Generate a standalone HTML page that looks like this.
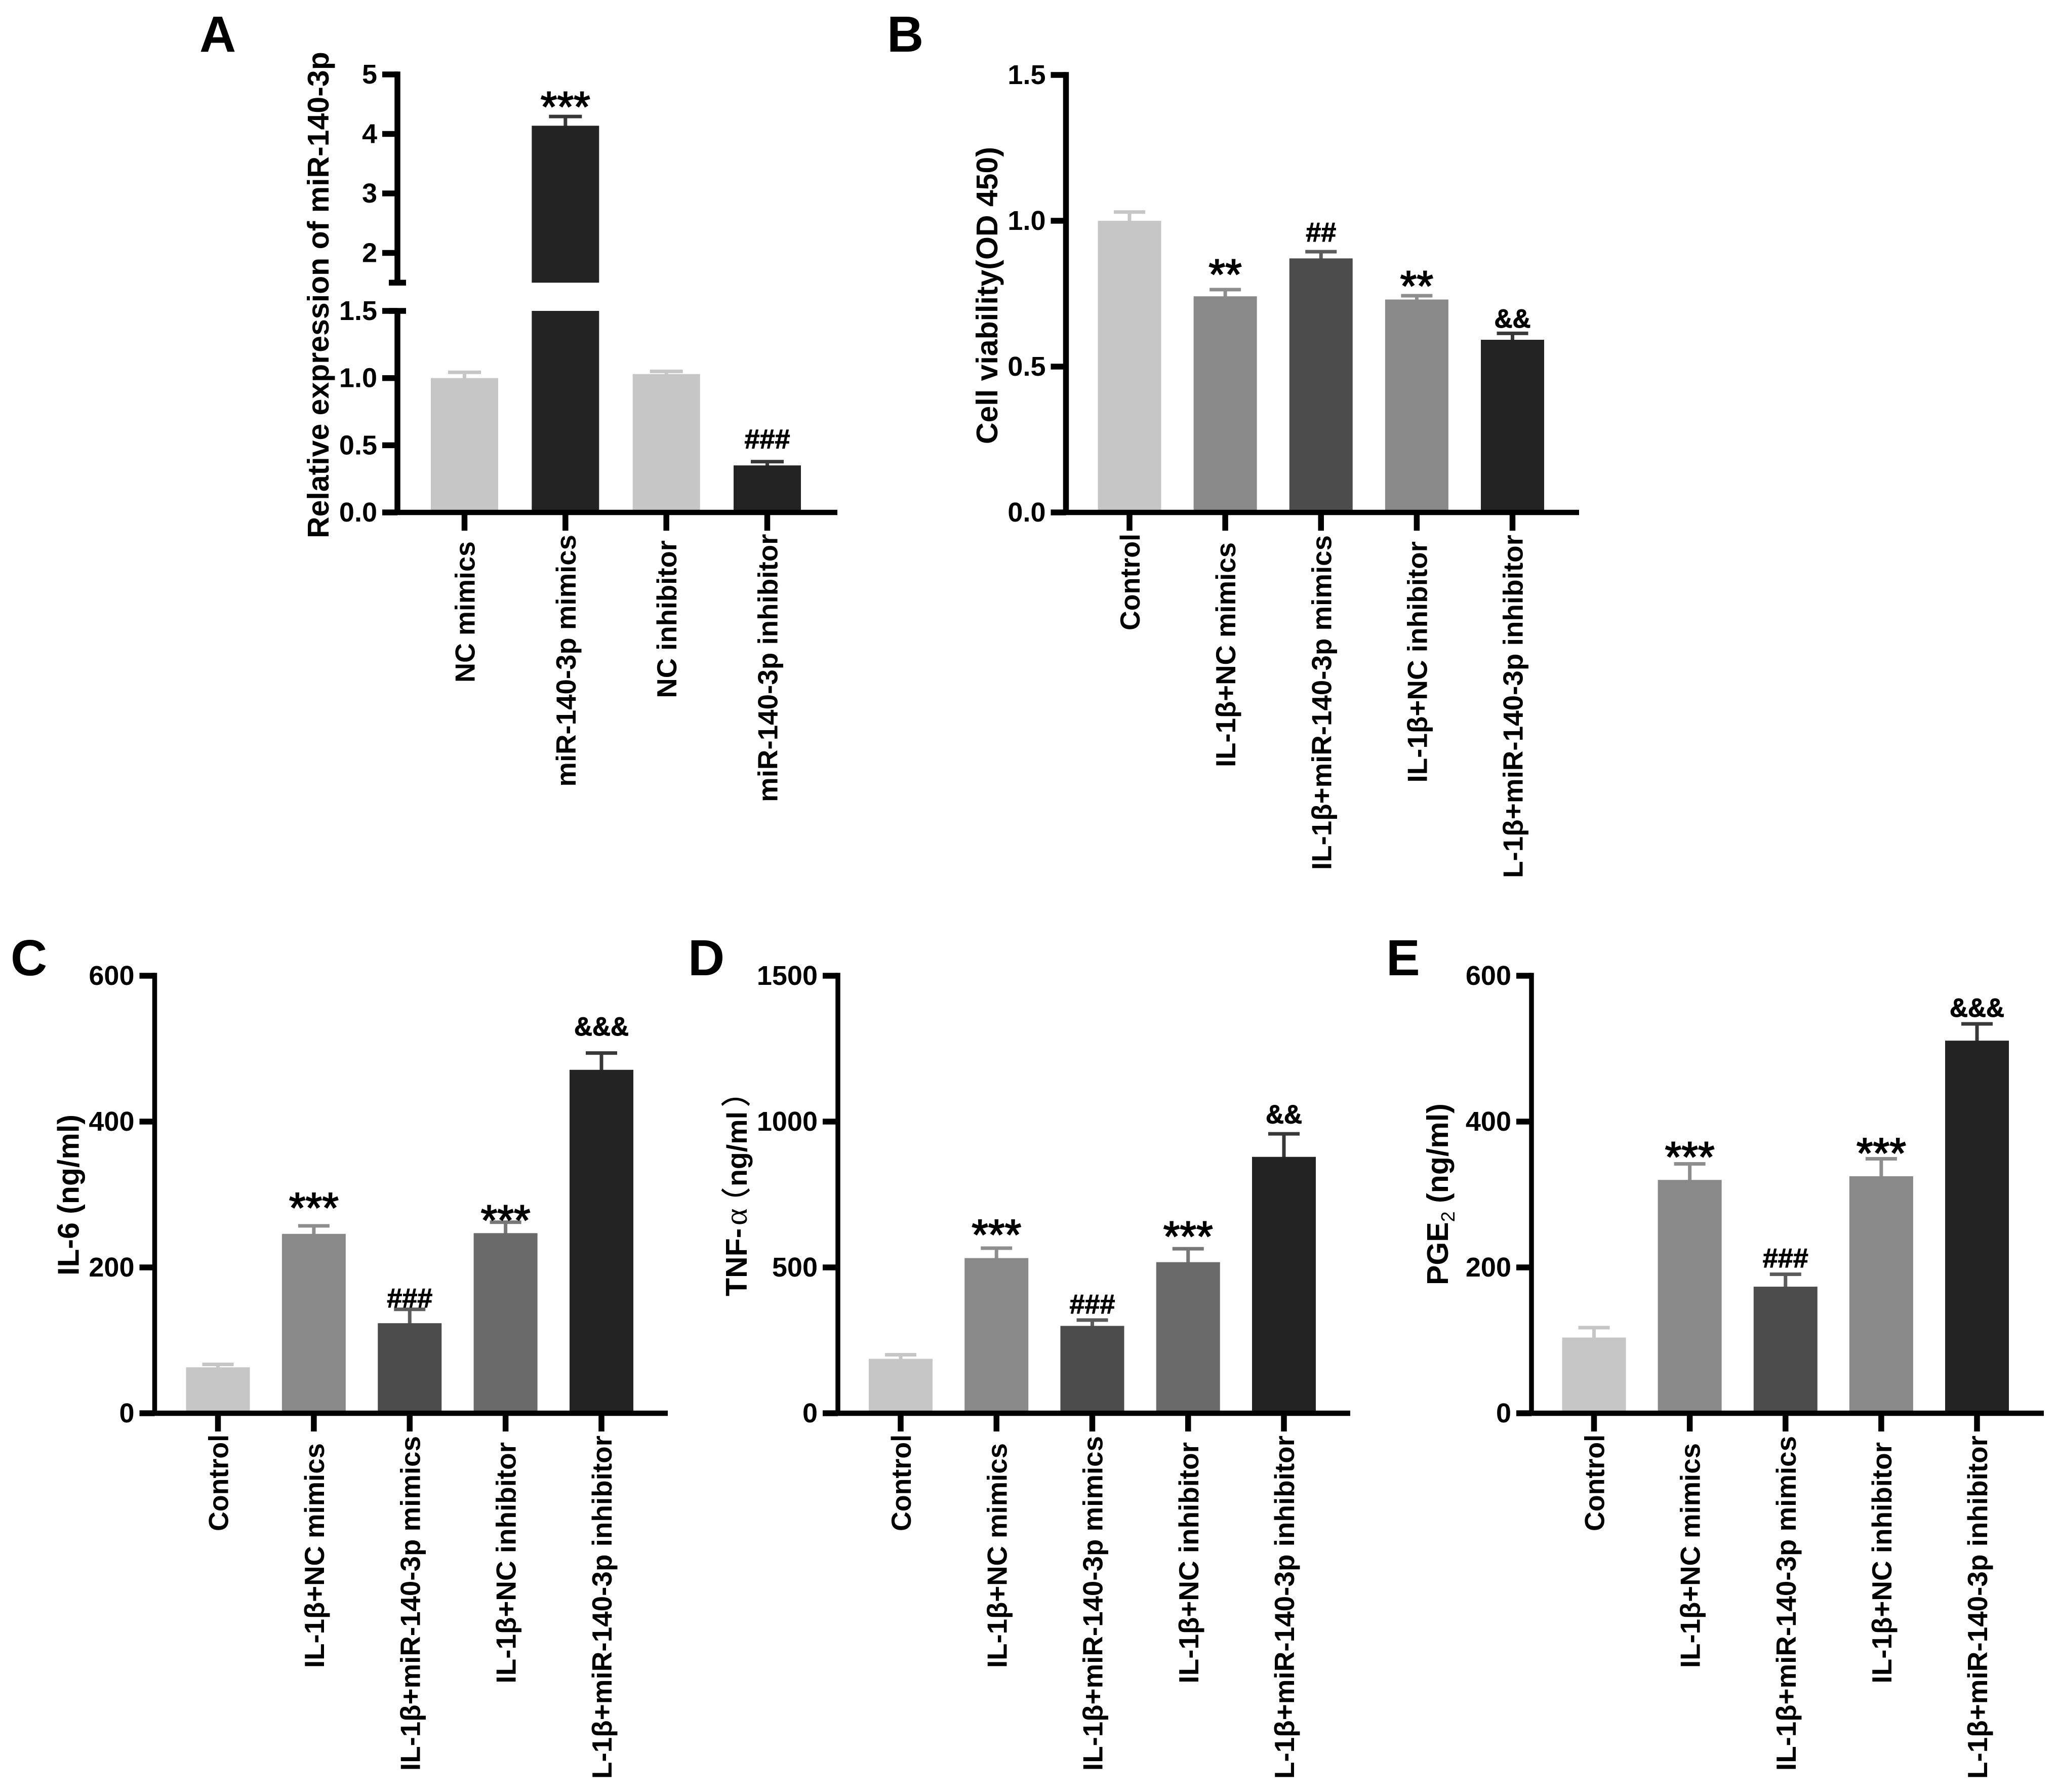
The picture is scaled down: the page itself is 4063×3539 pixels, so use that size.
<!DOCTYPE html>
<html lang="en">
<head>
<meta charset="utf-8">
<title>miR-140-3p bar chart figure</title>
<style>
html,body{margin:0;padding:0;background:#fff;}
svg{display:block;}
text{font-family:"Liberation Sans","Noto Sans CJK SC",sans-serif;font-weight:700;fill:#000;}
</style>
</head>
<body>
<svg id="figure" xmlns="http://www.w3.org/2000/svg" width="4063" height="3539" viewBox="0 0 4063 3539">
<rect width="4063" height="3539" fill="#fff"/>
</svg>
<script>
/* ---------- data: panel A ---------- */
const aCategories = ['NC mimics', 'miR-140-3p mimics', 'NC inhibitor', 'miR-140-3p inhibitor'];
const aValues = [1.0, 4.138, 1.03, 0.35];
const aErrors = [0.043, 0.155, 0.02, 0.028];
const aSigLabels = ['', '***', '', '###'];
const aSigLevels = [null, 4.205, null, 0.4775];
const aTicksUpper = [5, 4, 3, 2];
const aTicksLower = [1.5, 1.0, 0.5, 0.0];
const aTickLabelsUpper = ['5', '4', '3', '2'];
const aTickLabelsLower = ['1.5', '1.0', '0.5', '0.0'];

/* ---------- data: panel B ---------- */
const treatmentCategories = ['Control', 'IL-1β+NC mimics', 'IL-1β+miR-140-3p mimics', 'IL-1β+NC inhibitor', 'L-1β+miR-140-3p inhibitor'];
const bValues = [1.0, 0.741, 0.871, 0.73, 0.592];
const bErrors = [0.03, 0.023, 0.023, 0.013, 0.022];
const bSigLabels = ['', '**', '##', '**', '&&'];
const bSigLevels = [null, 0.7646, 0.9288, 0.7245, 0.634];
const bTicks = [1.5, 1.0, 0.5, 0.0];
const bTickLabels = ['1.5', '1.0', '0.5', '0.0'];

/* ---------- data: panel C ---------- */
const cValues = [63, 246, 123.5, 247, 471];
const cErrors = [4, 11, 19, 15, 23];
const cSigLabels = ['', '***', '###', '***', '&&&'];
const cSigLevels = [null, 261, 145.2, 244, 518];
const cTicks = [600, 400, 200, 0];
const cTickLabels = ['600', '400', '200', '0'];

/* ---------- data: panel D ---------- */
const dValues = [186.6, 532, 299.5, 518, 879];
const dErrors = [14, 34, 20, 46, 79];
const dSigLabels = ['', '***', '###', '***', '&&'];
const dSigLevels = [null, 560.5, 342, 554.5, 993.5];
const dTicks = [1500, 1000, 500, 0];
const dTickLabels = ['1500', '1000', '500', '0'];

/* ---------- data: panel E ---------- */
const eValues = [103.8, 320, 173.6, 325, 511];
const eErrors = [13.6, 22, 17, 24, 23];
const eSigLabels = ['', '***', '###', '***', '&&&'];
const eSigLevels = [null, 331, 200, 336, 543.6];
const eTicks = [600, 400, 200, 0];
const eTickLabels = ['600', '400', '200', '0'];

/* ---------- layout (not data) ---------- */
const SVGNS = 'http://www.w3.org/2000/svg';
const svg = document.getElementById('figure');
const TICK_W = 11.5;
const X_AXIS_W = 10.5;
const LIGHT = '#c6c6c6', MID = '#898989', DARK = '#4c4c4c', SLATE = '#6a6a6a', BLACK = '#232323';
const capShade = {'#c6c6c6': '#c6c6c6', '#898989': '#8e8e8e', '#4c4c4c': '#5c5c5c', '#6a6a6a': '#777777', '#232323': '#383838'};
const labelExtent = {
  'NC mimics': [57, 336],
  'miR-140-3p mimics': [44, 541.6],
  'NC inhibitor': [55, 366.6],
  'miR-140-3p inhibitor': [42.5, 572],
  'Control': [42, 233],
  'IL-1β+NC mimics': [59, 503],
  'IL-1β+miR-140-3p mimics': [45, 706],
  'IL-1β+NC inhibitor': [57, 533.5],
  'L-1β+miR-140-3p inhibitor': [44, 722]
};

function slug(s) {
  return String(s).toLowerCase().replace(/[^a-z0-9]+/g, '-').replace(/^-|-$/g, '');
}
function mk(tag, attrs, text) {
  const el = document.createElementNS(SVGNS, tag);
  for (const k in attrs) el.setAttribute(k, attrs[k]);
  if (text !== undefined) el.textContent = text;
  return el;
}
function linearAxis(v0, px0, v1, px1) {
  return v => px0 + (v - v0) * (px1 - px0) / (v1 - v0);
}
function hLine(parent, x1, x2, y, name, w) {
  const el = mk('rect', {x: x1, y: y - w / 2, width: x2 - x1, height: w, fill: '#000'});
  
  
  parent.appendChild(el);
}
function vLine(parent, x, y1, y2, name, w) {
  const el = mk('rect', {x: x - w / 2, y: y1, width: w, height: y2 - y1, fill: '#000'});
  
  
  parent.appendChild(el);
}
function yTick(parent, p, y, label) {
  hLine(parent, p.axisX - 30, p.axisX, y, 'y-tick-' + slug(label), TICK_W);
  const t = mk('text', {x: p.axisX - 40, y: y + 18, 'text-anchor': 'end', 'font-size': 54}, label);
  
  
  parent.appendChild(t);
}

function drawPanel(p) {
  const g = mk('g', {});
  
  
  svg.appendChild(g);

  /* panel letter */
  const letter = mk('text', {x: p.letterX, y: p.letterY, 'font-size': 100}, p.id.toUpperCase());
  
  
  g.appendChild(letter);

  /* bars and error bars */
  p.values.forEach((v, i) => {
    const cx = p.xAt(i);
    const color = p.colors[i];
    const capColor = capShade[color];
    const top = p.yAt(v);
    const cap = p.yAt(v + p.errors[i]);
    const stem = mk('rect', {x: cx - 3.5, y: cap, width: 7, height: Math.max(0, top - cap) + 2, fill: capColor});
    
    
    g.appendChild(stem);
    const capEl = mk('rect', {x: cx - p.capW / 2, y: cap - 3.5, width: p.capW, height: 7, fill: capColor});
    
    
    g.appendChild(capEl);
    if (p.breakAt !== undefined && v > p.breakAt) {
      const upper = mk('rect', {x: cx - p.barW / 2, y: top, width: p.barW, height: p.yAt(p.breakAt + 1e-6) - top, fill: color});
      
      
      g.appendChild(upper);
      const lowerTop = p.yAt(p.breakAt);
      const lower = mk('rect', {x: cx - p.barW / 2, y: lowerTop, width: p.barW, height: p.axisY - lowerTop, fill: color});
      
      
      g.appendChild(lower);
    } else {
      const bar = mk('rect', {x: cx - p.barW / 2, y: top, width: p.barW, height: p.axisY - top, fill: color});
      
      
      g.appendChild(bar);
    }
  });

  /* y axis */
  if (p.breakAt !== undefined) {
    vLine(g, p.axisX, p.yAt(5) - TICK_W / 2, p.yAt(p.breakAt + 1e-6), 'y-axis-upper', p.axisW);
    vLine(g, p.axisX, p.yAt(p.breakAt), p.axisY, 'y-axis-lower', p.axisW);
    hLine(g, p.axisX - 17, p.axisX + 17, p.yAt(p.breakAt + 1e-6), 'axis-break-upper', TICK_W);
    hLine(g, p.axisX - 17, p.axisX + 17, p.yAt(p.breakAt), 'axis-break-lower', TICK_W);
  } else {
    vLine(g, p.axisX, p.yAt(p.ticks[0]) - TICK_W / 2, p.axisY, 'y-axis', p.axisW);
  }
  p.ticks.forEach((v, i) => yTick(g, p, p.yAt(v), p.tickLabels[i]));

  /* x axis */
  hLine(g, p.axisX - 30, p.xEnd, p.axisY, 'x-axis', X_AXIS_W);
  p.cats.forEach((c, i) => {
    const cx = p.xAt(i);
    vLine(g, cx, p.axisY, p.axisY + 36, 'x-tick-' + slug(c), TICK_W);
    const ext = labelExtent[c];
    const label = mk('text', {
      transform: 'translate(' + (cx + 20) + ',' + (p.axisY + ext[1]) + ') rotate(-90)',
      'font-size': 55,
      textLength: ext[1] - ext[0],
      lengthAdjust: 'spacingAndGlyphs'
    }, c);
    
    
    g.appendChild(label);
  });

  /* significance marks */
  p.sigLabels.forEach((s, i) => {
    if (!s) return;
    const kind = s.charAt(0);
    let t;
    if (kind === '*') {
      t = mk('text', {x: p.xAt(i), y: p.yAt(p.sigLevels[i]) - 1, 'text-anchor': 'middle', 'font-size': 84, style: 'font-weight:400;stroke:#000;stroke-width:2px'}, s);
    } else if (kind === '#') {
      t = mk('text', {x: p.xAt(i), y: p.yAt(p.sigLevels[i]), 'text-anchor': 'middle', 'font-size': 54, style: 'stroke:#000;stroke-width:1px'}, s);
    } else {
      t = mk('text', {x: p.xAt(i), y: p.yAt(p.sigLevels[i]), 'text-anchor': 'middle', 'font-size': 52, textLength: s.length * 36, lengthAdjust: 'spacingAndGlyphs', style: 'stroke:#000;stroke-width:1px'}, s);
    }
    
    
    g.appendChild(t);
  });

  /* y title */
  const title = mk('text', {transform: 'translate(' + p.titleX + ',' + p.titleBottom + ') rotate(-90)', 'font-size': 59});
  
  
  p.title(title);
  g.appendChild(title);
}

function span(parent, text, attrs) {
  const s = mk('tspan', attrs || {}, text);
  parent.appendChild(s);
}

/* ---------- axis functions ---------- */
const aUpperAxis = linearAxis(5, 147, 2, 499.5);
const aLowerAxis = linearAxis(0, 1012, 1.5, 614);
const aXAxis = linearAxis(0, 917.5, 3, 1515.5);
const bYAxis = linearAxis(0, 1012, 1.5, 148);
const bXAxis = linearAxis(0, 2231, 4, 2987.5);
const cYAxis = linearAxis(0, 2791, 600, 1927);
const cXAxis = linearAxis(0, 430.5, 4, 1188);
const dYAxis = linearAxis(0, 2791, 1500, 1927);
const dXAxis = linearAxis(0, 1779, 4, 2536);
const eYAxis = linearAxis(0, 2791, 600, 1927);
const eXAxis = linearAxis(0, 3148.5, 4, 3905);

drawPanel({
  id: 'a', cats: aCategories, values: aValues, errors: aErrors,
  sigLabels: aSigLabels, sigLevels: aSigLevels,
  ticks: aTicksUpper.concat(aTicksLower),
  tickLabels: aTickLabelsUpper.concat(aTickLabelsLower),
  breakAt: 1.5,
  yAt: v => (v > 1.5 ? aUpperAxis(v) : aLowerAxis(v)),
  xAt: aXAxis,
  axisX: 785, axisY: 1012, xEnd: 1654, barW: 133, capW: 65, axisW: 11.5,
  colors: [LIGHT, BLACK, LIGHT, BLACK],
  letterX: 394, letterY: 102, titleX: 649, titleBottom: 1063,
  title: t => { span(t, 'Relative expression of miR-140-3p'); }
});
drawPanel({
  id: 'b', cats: treatmentCategories, values: bValues, errors: bErrors,
  sigLabels: bSigLabels, sigLevels: bSigLevels,
  ticks: bTicks, tickLabels: bTickLabels,
  yAt: bYAxis, xAt: bXAxis,
  axisX: 2105.5, axisY: 1012, xEnd: 3119, barW: 125, capW: 62, axisW: 11.5,
  colors: [LIGHT, MID, DARK, MID, BLACK],
  letterX: 1752, letterY: 102, titleX: 1970, titleBottom: 877,
  title: t => { span(t, 'Cell viability(OD 450)'); }
});
drawPanel({
  id: 'c', cats: treatmentCategories, values: cValues, errors: cErrors,
  sigLabels: cSigLabels, sigLevels: cSigLevels,
  ticks: cTicks, tickLabels: cTickLabels,
  yAt: cYAxis, xAt: cXAxis,
  axisX: 305.5, axisY: 2791, xEnd: 1319, barW: 126, capW: 62, axisW: 9.5,
  colors: [LIGHT, MID, DARK, SLATE, BLACK],
  letterX: 21, letterY: 1926, titleX: 155.5, titleBottom: 2519,
  title: t => { span(t, 'IL-6 (ng/ml)'); }
});
drawPanel({
  id: 'd', cats: treatmentCategories, values: dValues, errors: dErrors,
  sigLabels: dSigLabels, sigLevels: dSigLevels,
  ticks: dTicks, tickLabels: dTickLabels,
  yAt: dYAxis, xAt: dXAxis,
  axisX: 1655, axisY: 2791, xEnd: 2667, barW: 126, capW: 62, axisW: 9.5,
  colors: [LIGHT, MID, DARK, SLATE, BLACK],
  letterX: 1359, letterY: 1926, titleX: 1475, titleBottom: 2560,
  title: t => {
    span(t, 'TNF-');
    span(t, 'α', {x: 140, 'font-size': 64, style: 'font-family:"Liberation Serif",serif;font-weight:400'});
    span(t, '（', {x: 157, 'font-size': 58, style: 'font-family:"Noto Sans CJK SC",sans-serif;font-weight:400;stroke:#000;stroke-width:1px'});
    span(t, 'ng/ml', {x: 217, 'font-size': 55.5});
    span(t, '）', {x: 374, 'font-size': 58, style: 'font-family:"Noto Sans CJK SC",sans-serif;font-weight:400;stroke:#000;stroke-width:1px'});
  }
});
drawPanel({
  id: 'e', cats: treatmentCategories, values: eValues, errors: eErrors,
  sigLabels: eSigLabels, sigLevels: eSigLevels,
  ticks: eTicks, tickLabels: eTickLabels,
  yAt: eYAxis, xAt: eXAxis,
  axisX: 3025, axisY: 2791, xEnd: 4037, barW: 126, capW: 62, axisW: 9.5,
  colors: [LIGHT, MID, DARK, MID, BLACK],
  letterX: 2738, letterY: 1926, titleX: 2860, titleBottom: 2538,
  title: t => {
    span(t, 'PGE');
    span(t, '2', {dy: 13, 'font-size': 38, style: 'font-weight:400'});
    span(t, ' (ng/ml)', {dy: -13});
  }
});
</script>
</body>
</html>
